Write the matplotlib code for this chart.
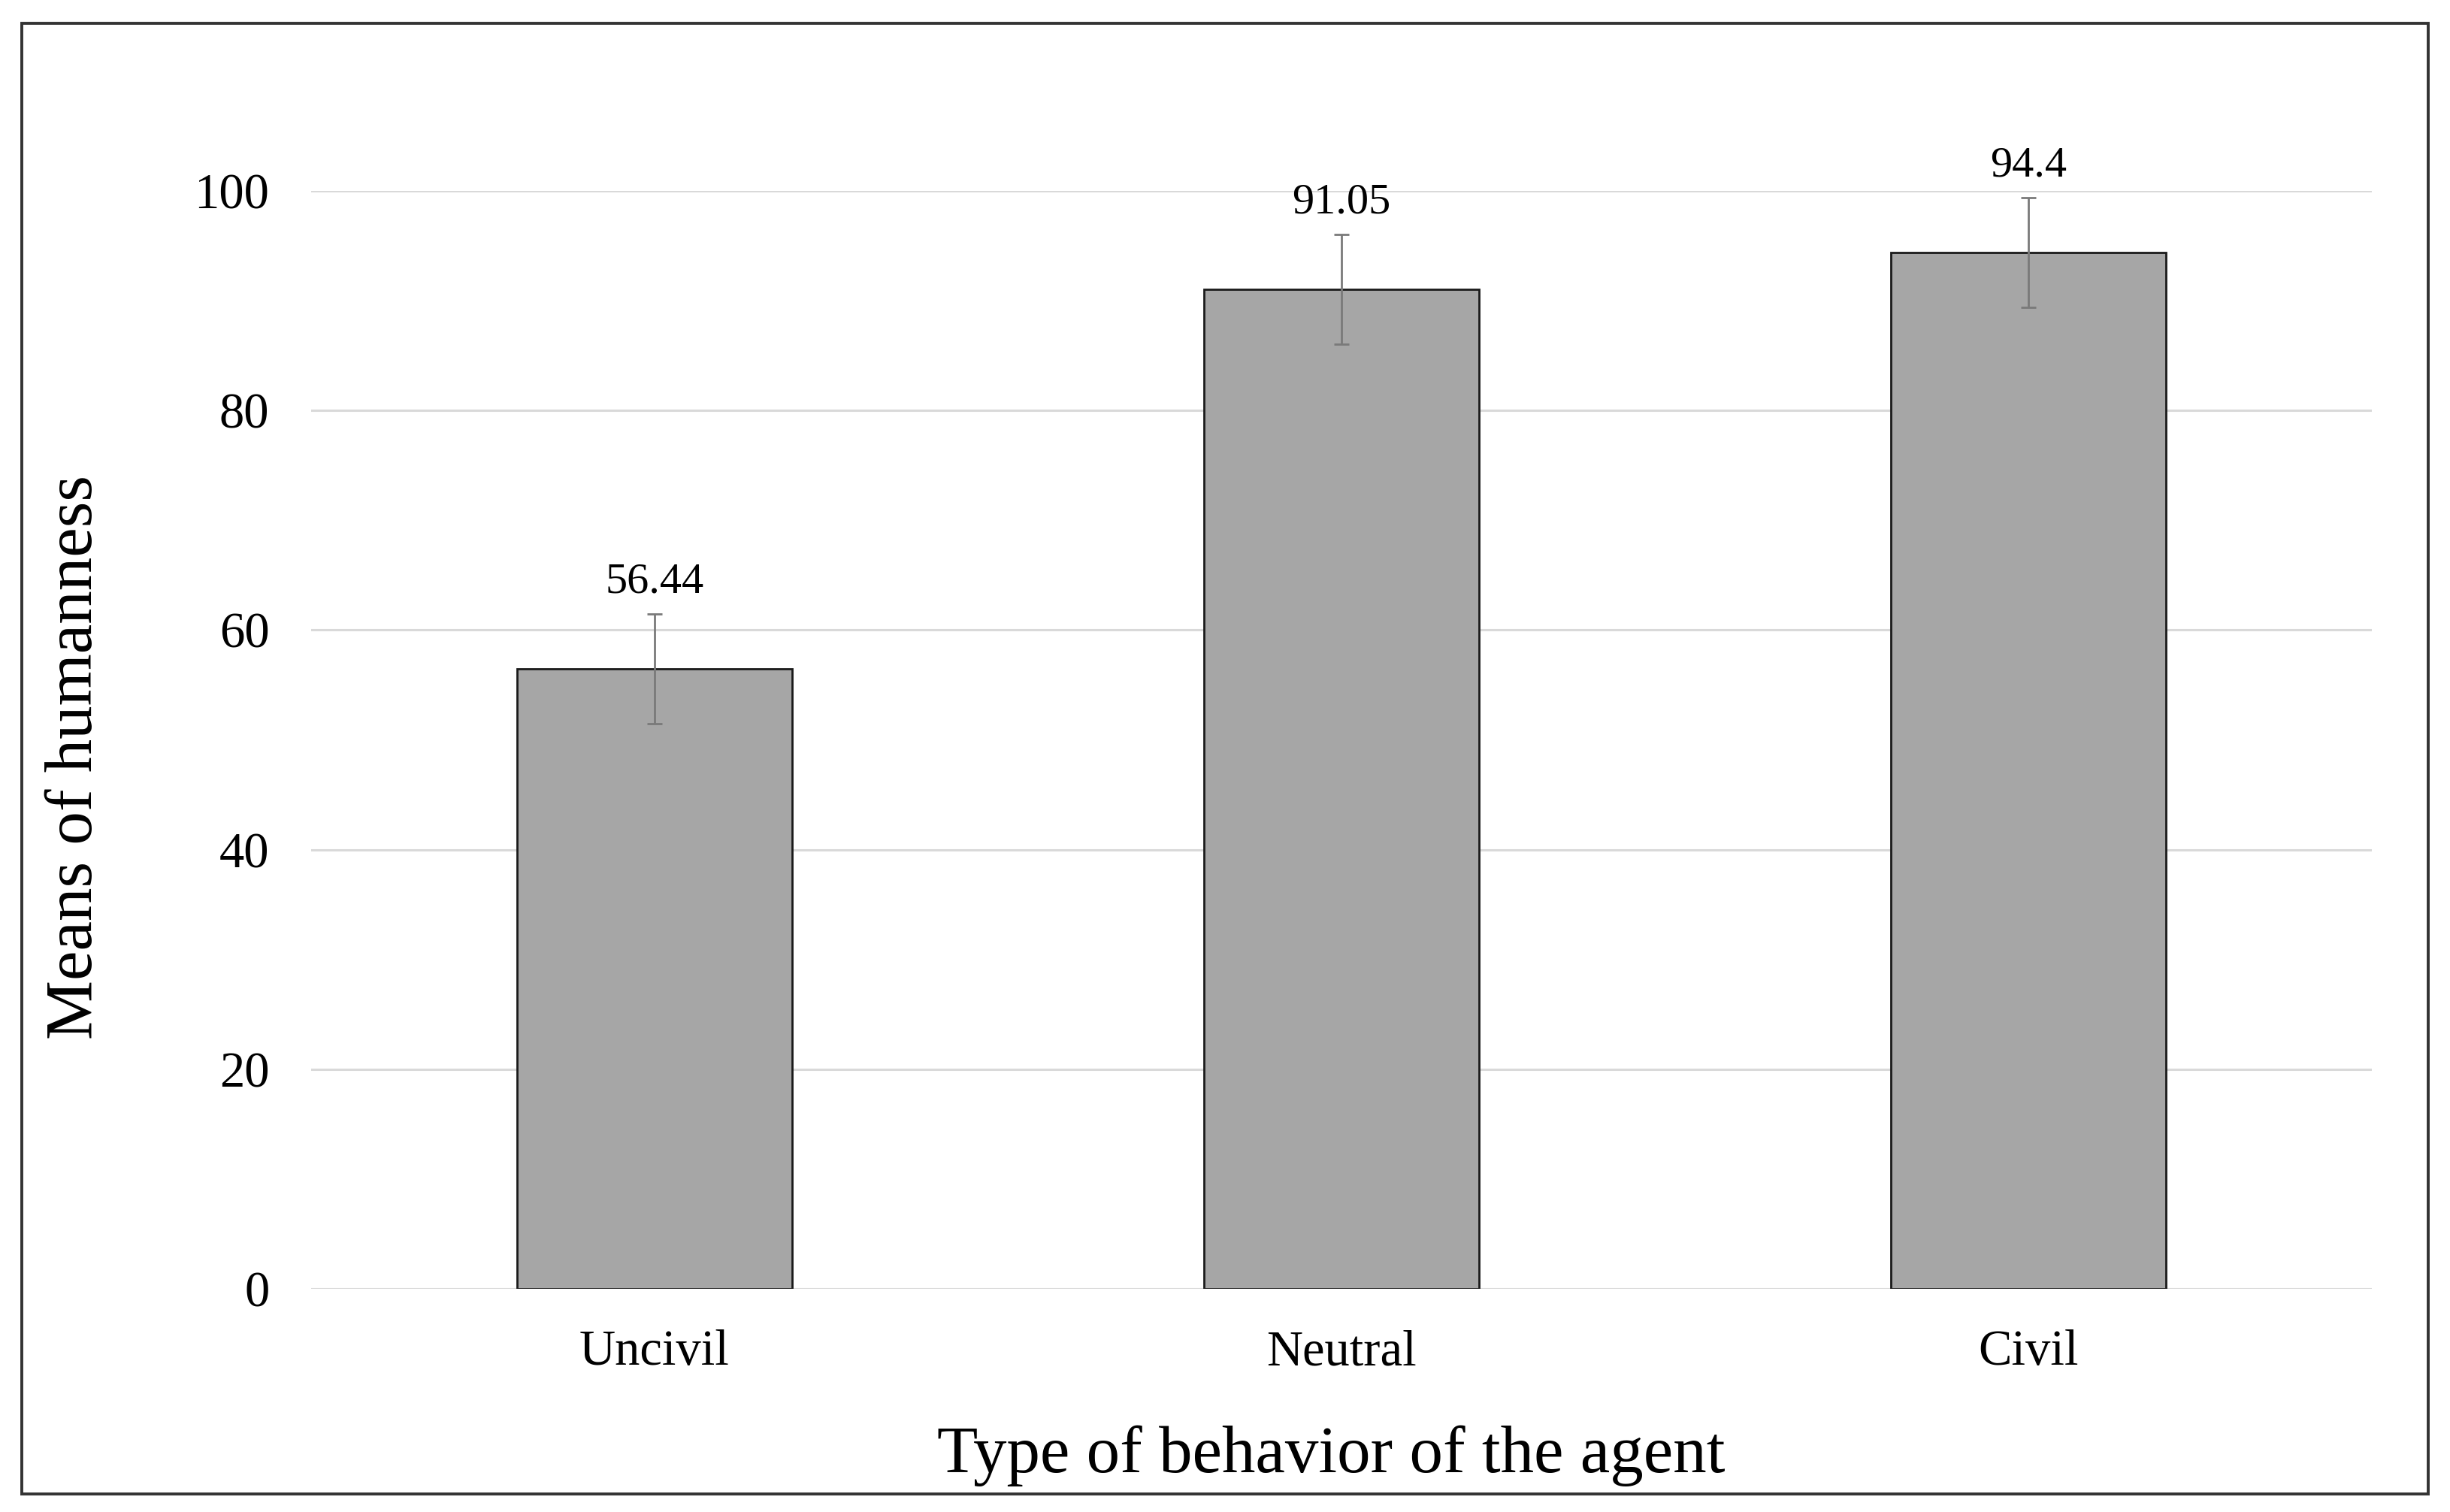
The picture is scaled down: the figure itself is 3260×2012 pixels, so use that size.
import numpy as np
import matplotlib.pyplot as plt
from matplotlib.patches import Rectangle

# Data
categories = ['Uncivil', 'Neutral', 'Civil']
means = [56.44, 91.05, 94.4]
errors = [5.0, 5.0, 5.0]
value_labels = ['56.44', '91.05', '94.4']
yticks = [0, 20, 40, 60, 80, 100]

plt.rcParams['font.family'] = ['Liberation Serif', 'DejaVu Serif']

W, H, dpi = 3260, 2012, 200
fig = plt.figure(figsize=(W / dpi, H / dpi), dpi=dpi)
ax = fig.add_axes([414 / W, 1 - 1715 / H, (3156 - 414) / W, (1715 - 254) / H])

x = np.arange(len(categories))
ax.bar(x, means, width=0.4, color='#a6a6a6', edgecolor='#1a1a1a', linewidth=1.0, zorder=3)
ax.errorbar(x, means, yerr=errors, fmt='none', ecolor='#7a7a7a', elinewidth=1.0,
            capsize=3.5, capthick=1.0, zorder=4)

for xi, m, e, lab in zip(x, means, errors, value_labels):
    ax.text(xi, m + e + 2.9, lab, ha='center', va='center', fontsize=21, clip_on=False)

ax.set_xlim(-0.5, 2.5)
ax.set_ylim(0, 100)
ax.set_yticks(yticks)
ax.set_xticks(x)
ax.set_xticklabels(categories)
ax.yaxis.grid(True, color='#d9d9d9', linewidth=1.1, zorder=0)
ax.set_axisbelow(True)
for s in ax.spines.values():
    s.set_visible(False)
ax.tick_params(axis='both', length=0, labelsize=24)
ax.tick_params(axis='y', pad=20)
ax.tick_params(axis='x', pad=19.5)

ax.set_xlabel('Type of behavior of the agent', fontsize=32, va='center')
ax.xaxis.set_label_coords(0.495, -0.152)
ax.set_ylabel('Means of humanness', fontsize=32, va='center')
ax.yaxis.set_label_coords(-0.1145, 0.484)

# outer frame
fig.patches.append(Rectangle((29 / W, 1 - 1988 / H), (3231 - 29) / W, (1988 - 31) / H,
                             transform=fig.transFigure, fill=False,
                             edgecolor='#333333', linewidth=1.4))

fig.savefig('out.png', dpi=dpi)
